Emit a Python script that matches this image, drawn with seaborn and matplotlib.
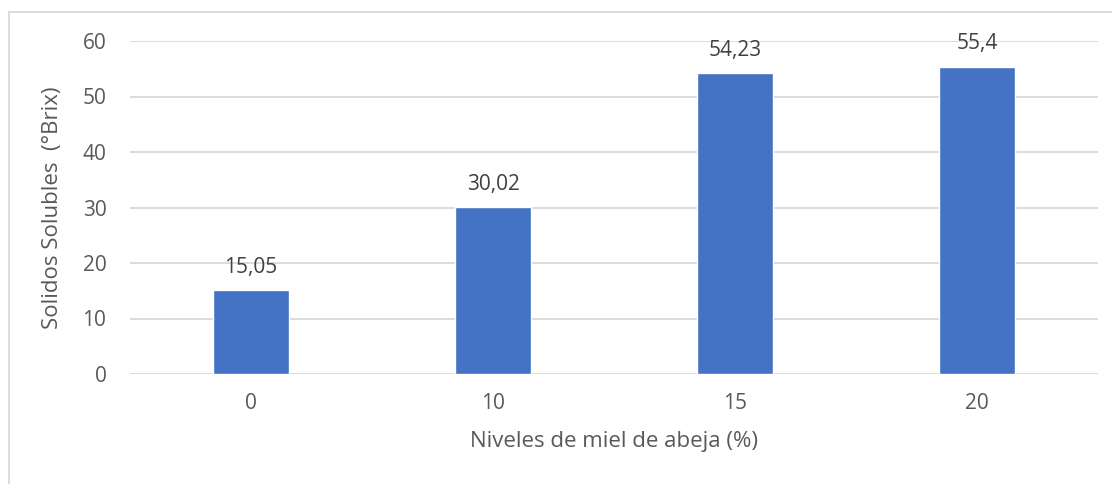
import matplotlib
matplotlib.use("Agg")
import matplotlib.pyplot as plt
import seaborn as sns
import pandas as pd
from matplotlib.patches import Rectangle

categories = ["0", "10", "15", "20"]
values = [15.05, 30.02, 54.23, 55.4]
value_labels = ["15,05", "30,02", "54,23", "55,4"]
y_ticks = [0, 10, 20, 30, 40, 50, 60]

sns.set_theme(style="white")
plt.rcParams['font.family'] = ['Open Sans', 'DejaVu Sans']

df = pd.DataFrame({"cat": categories, "val": values})

fig = plt.figure(figsize=(11.12, 4.84), dpi=100)
ax = fig.add_axes([130/1112, 1 - 374/484, 968/1112, (374-41)/484])

sns.barplot(data=df, x="cat", y="val", color="#4472C4", width=0.31,
            saturation=1, ax=ax, zorder=3)

ax.set_ylim(0, 60)
ax.set_xlim(-0.5, 3.5)
ax.set_yticks(y_ticks)
ax.set_yticklabels([str(t) for t in y_ticks])
ax.grid(axis="y", color="#D9D9D9", linewidth=1.3, zorder=0)
ax.set_axisbelow(True)
for s in ax.spines.values():
    s.set_visible(False)
ax.tick_params(axis="both", length=0, colors="#595959", labelsize=15)
ax.tick_params(axis="x", pad=14)
ax.tick_params(axis="y", pad=17)

for i, (v, lab) in enumerate(zip(values, value_labels)):
    ax.annotate(lab, (i, v), xytext=(0, 9), textcoords="offset points",
                ha="center", va="bottom", fontsize=15, color="#404040")

ax.set_xlabel("Niveles de miel de abeja (%)", fontsize=16, color="#595959", labelpad=12)
ax.set_ylabel("Solidos Solubles  (°Brix)", fontsize=16, color="#595959", labelpad=14)

# outer chart border
fig.patches.append(Rectangle((9/1112, -0.1), 1.2, 1 - 12/484 + 0.1,
                             transform=fig.transFigure, fill=False,
                             edgecolor="#D9D9D9", linewidth=1.3))

fig.savefig("out.png", dpi=100, facecolor="white")
